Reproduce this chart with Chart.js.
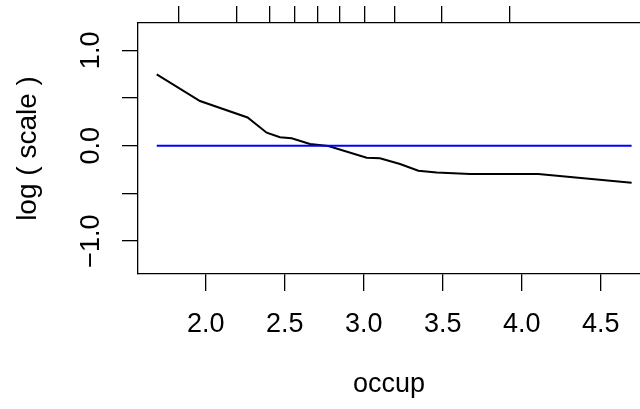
<!DOCTYPE html>
<html lang="en">
<head>
    <meta charset="UTF-8">
    <title>log scale vs occup</title>
    <script src="https://cdn.jsdelivr.net/npm/chart.js"></script>
    <style>
        body{
            margin: 0;
            background: #ffffff;
        }
    </style>
</head>
<body>
    <canvas id="grafik" width="640" height="409"></canvas>

    <script>
        // fitted curve
        const occup = [1.69, 1.964, 2.265, 2.386, 2.47, 2.544, 2.66, 2.776, 3.019, 3.103, 3.23, 3.346, 3.462, 3.673, 4.105, 4.696]
        const logScale = [0.749, 0.469, 0.296, 0.136, 0.088, 0.077, 0.018, -0.003, -0.126, -0.132, -0.192, -0.262, -0.280, -0.297, -0.297, -0.388]

        // reference line at zero
        const refX = [1.69, 4.696]
        const refY = [0, 0]

        const xTicks = [2.0, 2.5, 3.0, 3.5, 4.0, 4.5]
        const yTicks = [-1.0, -0.5, 0.0, 0.5, 1.0]
        const yLabels = ['\u22121.0', '', '0.0', '', '1.0']

        // rug marks along the top edge
        const rugX = [1.827, 2.196, 2.405, 2.561, 2.706, 2.848, 3.006, 3.198, 3.492, 3.922]

        const fontR = { family: "'Liberation Sans', Arial, sans-serif", size: 27, lineHeight: 1.2 }
        const fontTitle = { family: "'Liberation Sans', Arial, sans-serif", size: 28, lineHeight: 1.2 }
        const xMin = 1.5715, xMax = 4.749

        function toPts(xs, ys){
            return xs.map((v, i) => ({ x: v, y: ys[i] }))
        }

        const ctx = document.getElementById('grafik')

        new Chart(ctx, {
            type: 'line',
            data: {
                datasets: [{
                    data: toPts(refX, refY),
                    borderColor: '#0000ff',
                    borderWidth: 2,
                    pointRadius: 0,
                    tension: 0
                }, {
                    data: toPts(occup, logScale),
                    borderColor: '#000000',
                    borderWidth: 2,
                    pointRadius: 0,
                    tension: 0
                }]
            },
            options: {
                responsive: false,
                devicePixelRatio: 1,
                animation: false,
                layout: { padding: 0 },
                plugins: {
                    legend: { display: false },
                    tooltip: { enabled: false }
                },
                scales: {
                    x: {
                        type: 'linear',
                        position: 'bottom',
                        min: xMin,
                        max: xMax,
                        afterBuildTicks: s => { s.ticks = xTicks.map(v => ({ value: v })) },
                        afterFit: s => { s.height = 409 - 274 },
                        ticks: {
                            callback: v => v.toFixed(1),
                            font: fontR,
                            color: '#000',
                            padding: 17,
                            maxRotation: 0,
                            autoSkip: false
                        },
                        grid: { drawOnChartArea: false, drawTicks: true, tickLength: 17, color: '#000', lineWidth: 1.3 },
                        border: { display: true, color: '#000', width: 1.3 },
                        title: { display: true, text: 'occup', font: fontR, color: '#000', padding: { top: 0, bottom: 8 } }
                    },
                    x2: {
                        type: 'linear',
                        position: 'top',
                        min: xMin,
                        max: xMax,
                        afterBuildTicks: s => { s.ticks = rugX.map(v => ({ value: v })) },
                        afterFit: s => { s.height = 23 },
                        ticks: { display: false },
                        grid: { drawOnChartArea: false, drawTicks: true, tickLength: 17, color: '#000', lineWidth: 1.3 },
                        border: { display: true, color: '#000', width: 1.3 }
                    },
                    y: {
                        type: 'linear',
                        position: 'left',
                        min: -1.346,
                        max: 1.287,
                        afterBuildTicks: s => { s.ticks = yTicks.map(v => ({ value: v })) },
                        afterFit: s => { s.width = 138 },
                        ticks: {
                            callback: (v, i) => yLabels[i],
                            font: fontR,
                            color: '#000',
                            minRotation: 90,
                            maxRotation: 90,
                            crossAlign: 'center',
                            padding: 4,
                            autoSkip: false
                        },
                        grid: { drawOnChartArea: false, drawTicks: true, tickLength: 16, color: '#000', lineWidth: 1.3 },
                        border: { display: true, color: '#000', width: 1.3 },
                        title: { display: true, text: 'log ( scale )', font: fontTitle, color: '#000', padding: { top: 11, bottom: 0 } }
                    }
                }
            }
        })
    </script>
</body>
</html>
